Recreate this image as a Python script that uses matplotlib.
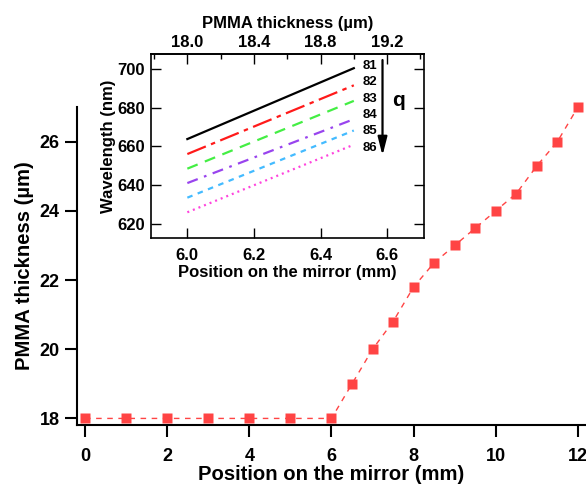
import numpy as np
import matplotlib
matplotlib.use("Agg")
import matplotlib.pyplot as plt
from matplotlib.ticker import MultipleLocator, FormatStrFormatter

plt.rcParams['font.family'] = ['Liberation Sans', 'DejaVu Sans']
plt.rcParams['font.weight'] = 'bold'
plt.rcParams['axes.labelweight'] = 'bold'

# main data: PMMA thickness vs position
position = [0, 1, 2, 3, 4, 5, 6, 6.5, 7, 7.5, 8, 8.5, 9, 9.5, 10, 10.5, 11, 11.5, 12]
thickness = [18, 18, 18, 18, 18, 18, 18, 19.0, 20.0, 20.8, 21.8, 22.5, 23.0, 23.5,
             24.0, 24.5, 25.3, 26.0, 27.0]

# inset: resonance wavelength of modes q vs position
inset_pos = [6.0, 6.5]
modes = [81, 82, 83, 84, 85, 86]
wl_81 = [663.8, 700.2]
wl_82 = [656.1, 691.4]
wl_83 = [648.6, 683.4]
wl_84 = [641.2, 674.0]
wl_85 = [633.7, 668.2]
wl_86 = [626.2, 660.9]
wavelengths = [wl_81, wl_82, wl_83, wl_84, wl_85, wl_86]

colors = ['black', '#ff1a1a', '#44ee44', '#9944ee', '#44bbff', '#ff44dd']
styles = ['-', (0, (9, 2.5, 2, 2.5)), (0, (5, 3.5)), (0, (5, 3, 1.2, 3)),
          (0, (2.5, 2.5)), (0, (0.9, 1.8))]

fig = plt.figure(figsize=(5.86, 4.84), dpi=100)

ax = fig.add_axes([0.1314, 0.1219, 0.8686, 0.6570])
ax.plot(position, thickness, color='#ff4444', lw=1.0, ls=(0, (4, 4)),
        marker='s', ms=7.8, mec='none', clip_on=False, zorder=3)
ax.set_xlim(-0.195, 12.196)
ax.set_ylim(17.81, 27.0)
ax.spines['top'].set_visible(False)
ax.spines['right'].set_visible(False)
for s in ['left', 'bottom']:
    ax.spines[s].set_linewidth(1.5)
ax.xaxis.set_major_locator(MultipleLocator(2))
ax.yaxis.set_major_locator(MultipleLocator(2))
ax.tick_params(axis='both', direction='out', length=8.6, width=1.5, labelsize=13)
ax.tick_params(axis='x', pad=8)
ax.tick_params(axis='y', pad=4)
ax.set_xlabel('Position on the mirror (mm)', fontsize=14.6, labelpad=0)
ax.set_ylabel('PMMA thickness (µm)', fontsize=14.6, labelpad=4)

# inset
axin = fig.add_axes([0.2572, 0.5083, 0.4659, 0.3802])
axin.set_zorder(5)
for wl, c, st in zip(wavelengths, colors, styles):
    axin.plot(inset_pos, wl, color=c, ls=st, lw=1.6)
axin.set_xlim(5.89, 6.71)
axin.set_ylim(613.0, 707.5)
for s in axin.spines.values():
    s.set_linewidth(1.2)
axin.xaxis.set_major_locator(MultipleLocator(0.2))
axin.yaxis.set_major_locator(MultipleLocator(20))
axin.xaxis.set_major_formatter(FormatStrFormatter('%.1f'))
axin.tick_params(axis='both', direction='in', length=7, width=1.0, labelsize=12,
                 right=True)
axin.tick_params(axis='x', pad=7)
axin.tick_params(axis='y', pad=4)
axin.set_xlabel('Position on the mirror (mm)', fontsize=12, labelpad=2)
axin.set_ylabel('Wavelength (nm)', fontsize=12, labelpad=1)

top = axin.secondary_xaxis('top', functions=(lambda x: 18 + 2 * (x - 6),
                                            lambda t: 6 + (t - 18) / 2))
top.xaxis.set_major_locator(MultipleLocator(0.4))
top.xaxis.set_minor_locator(MultipleLocator(0.2))
top.xaxis.set_major_formatter(FormatStrFormatter('%.1f'))
top.tick_params(which='major', direction='in', length=7, width=1.0, labelsize=12, pad=3)
top.tick_params(which='minor', direction='in', length=3.5, width=1.0)
top.spines['top'].set_linewidth(1.2)
top.set_xlabel('PMMA thickness (µm)', fontsize=12, labelpad=5)

for i, q in enumerate(modes):
    axin.text(0.775, 0.935 - 0.089 * i, str(q), transform=axin.transAxes,
              fontsize=9.5, fontweight='bold', ha='left', va='center')

axin.annotate('', xy=(0.849, 0.448), xytext=(0.849, 0.967),
              xycoords='axes fraction', textcoords='axes fraction',
              arrowprops=dict(arrowstyle='-|>,head_length=1.1,head_width=0.28',
                              color='black', lw=1.6, shrinkA=0, shrinkB=0))
axin.text(0.908, 0.745, 'q', transform=axin.transAxes, fontsize=15,
          fontweight='bold', ha='center', va='center')

fig.savefig('out.png', dpi=100)
